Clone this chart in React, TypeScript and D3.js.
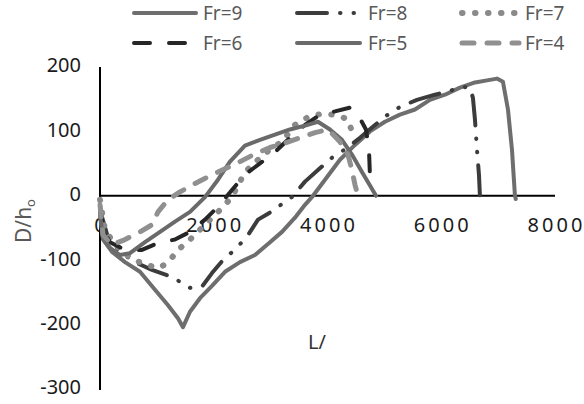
import * as d3 from "d3";

// series: [L, D/h0]
const fr9: [number, number][] = [
  [0, -26], [53, -68], [211, -87], [440, -103], [703, -118], [967, -146], [1196, -170],
  [1371, -190], [1459, -204], [1582, -180], [1758, -159], [1969, -140], [2198, -118],
  [2461, -103], [2725, -92], [2989, -72], [3200, -56], [3428, -34], [3604, -14], [3745, 0],
  [3956, 25], [4219, 56], [4483, 79], [4747, 100], [5010, 115], [5274, 126], [5538, 134],
  [5801, 149], [6065, 157], [6329, 168], [6593, 176], [6856, 180], [6979, 182], [7085, 177],
  [7173, 134], [7243, 72], [7296, 0], [7310, -5],
];
const fr8: [number, number][] = [
  [0, -22], [141, -65], [352, -87], [615, -103], [914, -115], [1266, -126], [1582, -143],
  [1793, -141], [1969, -120], [2198, -96], [2373, -84], [2602, -61], [2778, -37], [2989, -26],
  [3375, -2], [3604, 22], [3832, 40], [4078, 59], [4307, 72], [4571, 90], [4782, 106],
  [5010, 123], [5274, 138], [5573, 149], [5889, 157], [6153, 163], [6382, 169], [6505, 168],
  [6557, 152], [6593, 118], [6628, 72], [6663, 33], [6680, 0],
];
const fr7: [number, number][] = [
  [0, -6], [88, -53], [264, -76], [527, -96], [791, -107], [1055, -112], [1230, -100],
  [1371, -84], [1582, -68], [1846, -45], [2110, -22], [2320, -2], [2549, 37], [2778, 56],
  [2989, 72], [3200, 84], [3428, 110], [3692, 124], [3956, 128], [4219, 124], [4360, 118],
  [4430, 100],
];
const fr6: [number, number][] = [
  [0, -14], [53, -53], [176, -72], [440, -84], [738, -84], [1055, -72], [1318, -68],
  [1582, -56], [1846, -37], [2074, -17], [2320, 9], [2549, 33], [2778, 48], [3076, 68],
  [3340, 90], [3604, 110], [3868, 126], [4131, 131], [4395, 137], [4536, 126], [4676, 103],
  [4729, 72], [4747, 30],
];
const fr5: [number, number][] = [
  [0, -30], [53, -65], [176, -81], [352, -92], [527, -89], [791, -72], [1055, -56],
  [1318, -40], [1582, -25], [1846, -2], [2074, 25], [2285, 53], [2549, 78], [2813, 87],
  [3076, 95], [3340, 103], [3604, 109], [3832, 115], [4043, 103], [4254, 87], [4430, 64],
  [4606, 37], [4747, 16], [4852, 0],
];
const fr4: [number, number][] = [
  [0, -14], [53, -61], [211, -76], [440, -68], [703, -56], [914, -45], [1020, -25],
  [1196, -6], [1406, 6], [1670, 19], [1934, 31], [2198, 42], [2461, 53], [2725, 65],
  [2989, 75], [3252, 82], [3516, 90], [3780, 98], [4008, 103], [4219, 84], [4360, 64],
  [4430, 40], [4483, 17], [4536, 0],
];

const seriesNames = ["Fr=9", "Fr=8", "Fr=7", "Fr=6", "Fr=5", "Fr=4"];
const seriesData = [fr9, fr8, fr7, fr6, fr5, fr4];
const xTicks = [0, 2000, 4000, 6000, 8000];
const yTicks = [-300, -200, -100, 0, 100, 200];

const styles = [
  { color: "#6e6e6e", dash: "none", width: 4 },
  { color: "#3c3c3c", dash: "30 13 0.5 13 0.5 13", width: 4 },
  { color: "#8a8a8a", dash: "0.5 12.5", width: 6 },
  { color: "#262626", dash: "16 19", width: 4 },
  { color: "#6a6a6a", dash: "none", width: 4 },
  { color: "#909090", dash: "12 13", width: 5 },
];

// legend slots: col x of swatch start/end, text x, row y
const legendCols = [
  { x0: 134, x1: 196, tx: 203 },
  { x0: 297, x1: 360, tx: 368 },
  { x0: 462, x1: 519, tx: 525 },
];
const legendRows = [13, 43];

export default function App() {
  const x = d3.scaleLinear().domain([0, 8000]).range([100, 555]);
  const y = d3.scaleLinear().domain([-300, 200]).range([389, 67]);
  const line = d3
    .line<[number, number]>()
    .x((d) => x(d[0]))
    .y((d) => y(d[1]));

  const font = "'Noto Sans', 'DejaVu Sans', sans-serif";

  return (
    <svg
      width={584}
      height={404}
      style={{ position: "absolute", left: 0, top: 0, background: "#fff" }}
      fontFamily={font}
    >
      <defs>
        <clipPath id="legendClip">
          <rect x={0} y={6} width={584} height={398} />
        </clipPath>
      </defs>

      {/* axes */}
      <line x1={x(0)} x2={x(0)} y1={y(200)} y2={y(-300) + 1} stroke="#000" strokeWidth={2} />
      <line x1={x(0)} x2={x(8000)} y1={y(0)} y2={y(0)} stroke="#000" strokeWidth={2} />

      {yTicks.map((t) => (
        <text
          key={"y" + t}
          x={81}
          y={y(t)}
          textAnchor="end"
          dominantBaseline="middle"
          fontSize={20}
          fill="#1a1a1a"
        >
          {t}
        </text>
      ))}
      {xTicks.map((t) => (
        <text
          key={"x" + t}
          x={x(t) + 1.5}
          y={232}
          textAnchor="middle"
          fontSize={20}
          letterSpacing={3}
          fill="#1a1a1a"
        >
          {t}
        </text>
      ))}

      {/* series */}
      {seriesData.map((s, i) => (
        <path
          key={seriesNames[i]}
          d={line(s) || ""}
          fill="none"
          stroke={styles[i].color}
          strokeWidth={styles[i].width}
          strokeDasharray={styles[i].dash}
          strokeLinecap="round"
          strokeLinejoin="round"
        />
      ))}

      {/* axis titles */}
      <text
        transform="translate(31,221) rotate(-90)"
        textAnchor="middle"
        fontSize={21}
        fill="#595959"
      >
        D/h
        <tspan fontSize={13} dy={4}>
          o
        </tspan>
      </text>
      <text x={308} y={349} fontSize={20} fill="#333">
        L/
      </text>

      {/* legend */}
      <g clipPath="url(#legendClip)">
        {seriesNames.map((name, i) => {
          const col = legendCols[i % 3];
          const ry = legendRows[Math.floor(i / 3)];
          return (
            <g key={"lg" + name}>
              <line
                x1={col.x0}
                x2={col.x1}
                y1={ry}
                y2={ry}
                stroke={styles[i].color}
                strokeWidth={styles[i].width}
                strokeDasharray={styles[i].dash}
                strokeLinecap="round"
              />
              <text x={col.tx} y={ry + 7} fontSize={19} fill="#595959">
                {name}
              </text>
            </g>
          );
        })}
      </g>
    </svg>
  );
}
